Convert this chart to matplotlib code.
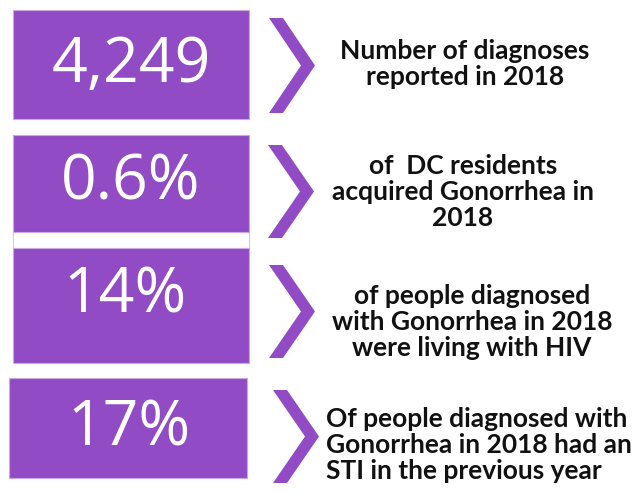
import matplotlib
matplotlib.use("Agg")
import matplotlib.pyplot as plt
from matplotlib.patches import Rectangle, Polygon

values = ["4,249", "0.6%", "14%", "17%"]
descriptions = [
    "Number of diagnoses\nreported in 2018",
    "of  DC residents\nacquired Gonorrhea in\n2018",
    "of people diagnosed\nwith Gonorrhea in 2018\nwere living with HIV",
    "Of people diagnosed with\nGonorrhea in 2018 had an\nSTI in the previous year",
]

# layout (pixels)
boxes = [(13, 10, 249, 119), (13, 135, 249, 232), (13, 248, 249, 363), (9, 378, 247, 478)]
chevrons = [(269, 18, 113), (268, 145, 238), (269, 265, 358), (273, 390, 483)]
value_y = [66, 183, 296, 429]
value_x = [131, 131, 125, 129]
desc_pos = [(465, 64, "center"), (463, 192, "center"), (472, 322, "center"), (326, 445, "left")]

PURPLE = "#914CC5"
W, H = 641, 493
fig = plt.figure(figsize=(W / 100, H / 100), dpi=100)
ax = fig.add_axes([0, 0, 1, 1])
ax.set_xlim(0, W)
ax.set_ylim(H, 0)
ax.axis("off")

# faint outline strip between box 2 and 3
ax.add_patch(Rectangle((13, 232), 236, 16, facecolor="white", edgecolor="#D9C3EA", lw=0.8))

for (x0, y0, x1, y1), v, vx, vy in zip(boxes, values, value_x, value_y):
    ax.add_patch(Rectangle((x0, y0), x1 - x0, y1 - y0, facecolor=PURPLE,
                           edgecolor="#C9A8E3", lw=0.8))
    ax.text(vx, vy, v, color="white", fontsize=45, family="Open Sans",
            ha="center", va="center")

t = 14
for (cx, cy0, cy1) in chevrons:
    tip = cx + 46
    ym = (cy0 + cy1) / 2
    pts = [(cx, cy0), (cx + t, cy0), (tip, ym), (cx + t, cy1), (cx, cy1), (tip - t, ym)]
    ax.add_patch(Polygon(pts, closed=True, facecolor=PURPLE, edgecolor="none"))

for txt, (dx, dy, al) in zip(descriptions, desc_pos):
    ax.text(dx, dy, txt, color="#111111", fontsize=19, family="Lato", weight="bold",
            ha=al, va="center", multialignment=al, linespacing=1.1)

fig.savefig("out.png", dpi=100)
